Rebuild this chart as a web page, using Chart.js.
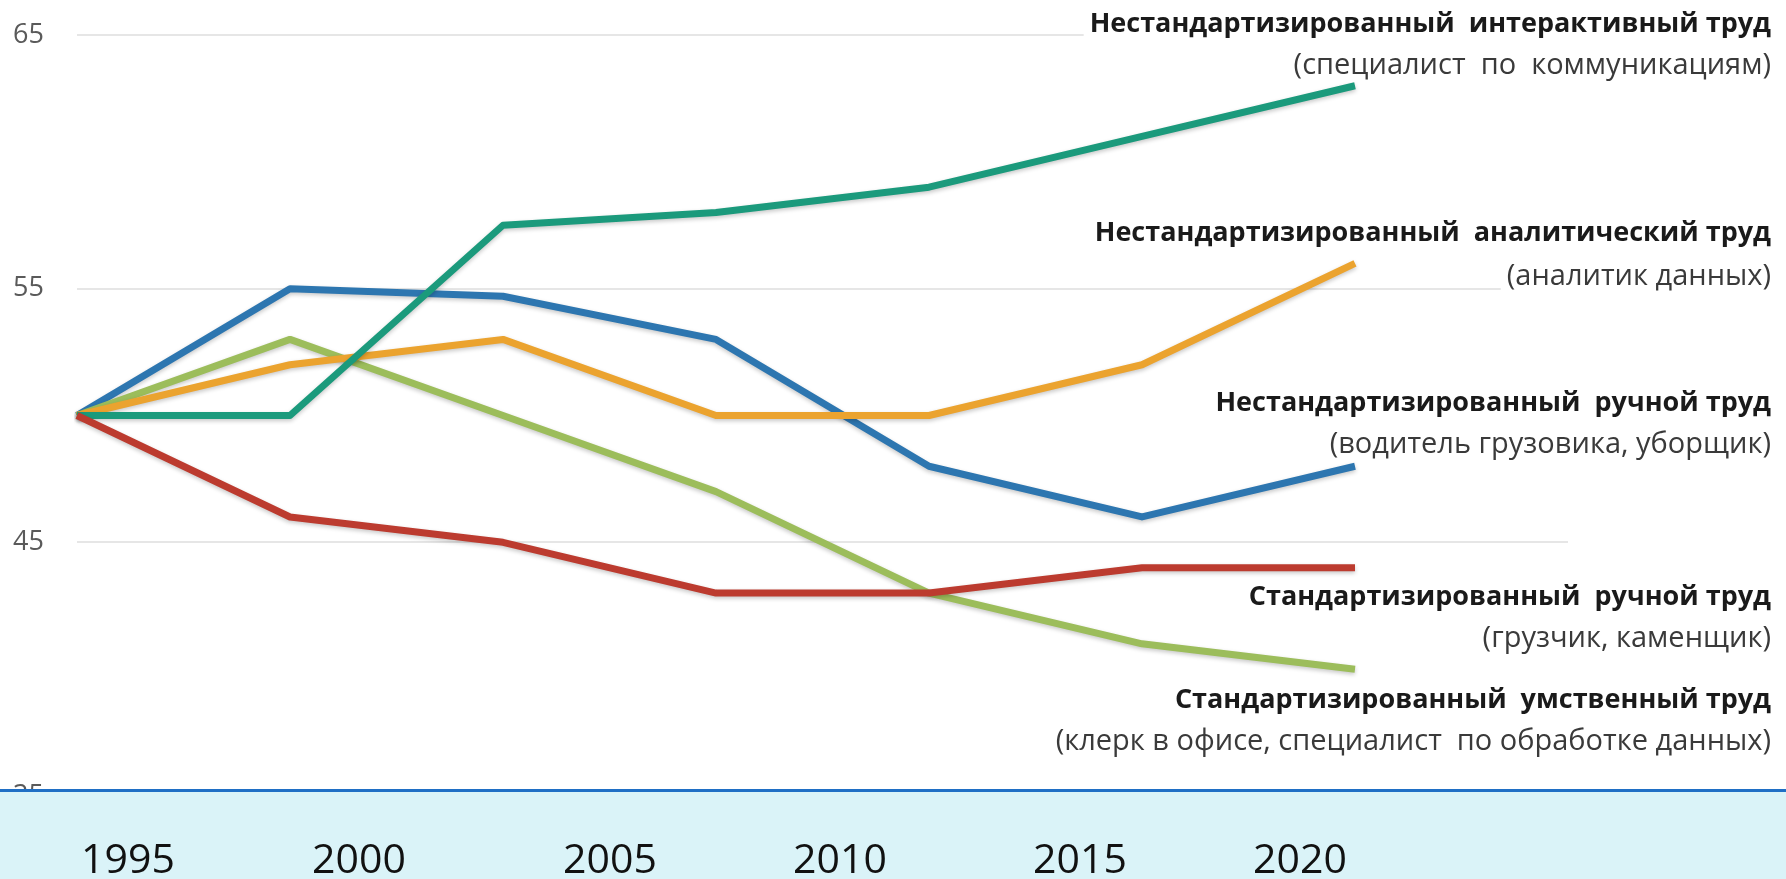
<!DOCTYPE html>
<html lang="ru">
<head>
<meta charset="utf-8">
<title>Виды труда</title>
<script src="https://cdn.jsdelivr.net/npm/chart.js@4/dist/chart.umd.min.js"></script>
<style>
  html, body { margin: 0; padding: 0; background: #fff; }
  #wrap { position: relative; width: 1786px; height: 879px; }
</style>
</head>
<body>
<div id="wrap"><canvas id="chart"></canvas></div>
<script>
// --- data ---
var categories = ["t1", "t2", "t3", "t4", "t5", "t6", "t7", ""];
var interactive = [50, 50, 57.5, 58, 59, 61, 63];
var analytic = [50, 52, 53, 50, 50, 52, 56];
var nonroutineManual = [50, 55, 54.7, 53, 48, 46, 48];
var routineManual = [50, 46, 45, 43, 43, 44, 44];
var routineCognitive = [50, 53, 50, 47, 43, 41, 40];
var yTicks = [35, 45, 55, 65];
var yearLabels = ["1995", "2000", "2005", "2010", "2015", "2020"];
var seriesTitles = [
  "Нестандартизированный  интерактивный труд",
  "Нестандартизированный  аналитический труд",
  "Нестандартизированный  ручной труд",
  "Стандартизированный  ручной труд",
  "Стандартизированный  умственный труд"
];
var seriesNotes = [
  "(специалист  по  коммуникациям)",
  "(аналитик данных)",
  "(водитель грузовика, уборщик)",
  "(грузчик, каменщик)",
  "(клерк в офисе, специалист  по обработке данных)"
];

// --- layout (pixels) ---
var yearX = [128, 359, 610, 840, 1080, 1300];
var labelBaselines = [[32, 74], [241, 285], [411, 453], [605, 647], [708, 750]];
var labelRight = 1771;
var bandTop = 789;

var FONT = '"Open Sans", "Noto Sans", sans-serif';

// right-side labels with a white backing, like the original
var labelsPlugin = {
  id: "seriesLabels",
  afterDatasetsDraw: function (chart) {
    var ctx = chart.ctx;
    ctx.save();
    ctx.textAlign = "right";
    ctx.textBaseline = "alphabetic";
    for (var i = 0; i < seriesTitles.length; i++) {
      var lines = [
        { text: seriesTitles[i], font: "bold 27px " + FONT, color: "#1a1a1a", y: labelBaselines[i][0] },
        { text: seriesNotes[i], font: "29px " + FONT, color: "#3a3a3a", y: labelBaselines[i][1] }
      ];
      lines.forEach(function (l) {
        ctx.font = l.font;
        var w = ctx.measureText(l.text).width;
        ctx.fillStyle = "#ffffff";
        ctx.fillRect(labelRight - w - 6, l.y - 24, w + 12, 32);
        ctx.fillStyle = l.color;
        ctx.fillText(l.text, labelRight, l.y);
      });
    }
    ctx.restore();
  }
};

// bottom band with the year labels
var bandPlugin = {
  id: "yearBand",
  afterDraw: function (chart) {
    var ctx = chart.ctx;
    ctx.save();
    ctx.fillStyle = "#daf3f8";
    ctx.fillRect(0, bandTop, chart.width, chart.height - bandTop);
    ctx.fillStyle = "#1f6fc5";
    ctx.fillRect(0, bandTop, chart.width, 3);
    ctx.font = "41px " + FONT;
    ctx.fillStyle = "#111111";
    ctx.textAlign = "center";
    ctx.textBaseline = "alphabetic";
    yearLabels.forEach(function (t, i) {
      ctx.fillText(t, yearX[i], 873);
    });
    ctx.restore();
  }
};

// soft drop shadow under the lines
var shadowPlugin = {
  id: "lineShadow",
  beforeDatasetDraw: function (chart) {
    var ctx = chart.ctx;
    ctx.save();
    ctx.shadowColor = "rgba(0,0,0,0.22)";
    ctx.shadowBlur = 4;
    ctx.shadowOffsetY = 2;
  },
  afterDatasetDraw: function (chart) {
    chart.ctx.restore();
  }
};

function series(data, color) {
  return {
    data: data,
    borderColor: color,
    backgroundColor: color,
    borderWidth: 7,
    pointRadius: 0,
    tension: 0,
    borderJoinStyle: "round",
    borderCapStyle: "butt",
    fill: false
  };
}

new Chart(document.getElementById("chart"), {
  type: "line",
  data: {
    labels: categories,
    datasets: [
      series(routineManual, "#bc3b2f"),
      series(interactive, "#1b9a7c"),
      series(analytic, "#eba32f"),
      series(routineCognitive, "#9cbd5b"),
      series(nonroutineManual, "#2d76b0")
    ]
  },
  options: {
    responsive: true,
    maintainAspectRatio: false,
    animation: false,
    layout: { padding: { top: 35, bottom: 83, left: 13, right: 218 } },
    plugins: {
      legend: { display: false },
      tooltip: { enabled: false }
    },
    scales: {
      x: {
        display: false,
        offset: false
      },
      y: {
        min: 35,
        max: 65,
        afterBuildTicks: function (s) {
          s.ticks = yTicks.map(function (v) { return { value: v }; });
        },
        afterFit: function (s) { s.width = 64; },
        border: { display: false },
        grid: { color: "#e6e6e6", lineWidth: 2, drawTicks: false },
        ticks: {
          padding: 0,
          crossAlign: "far",
          color: "#5a5a5a",
          font: { family: FONT, size: 27 }
        }
      }
    }
  },
  plugins: [shadowPlugin, labelsPlugin, bandPlugin]
});
</script>
</body>
</html>
